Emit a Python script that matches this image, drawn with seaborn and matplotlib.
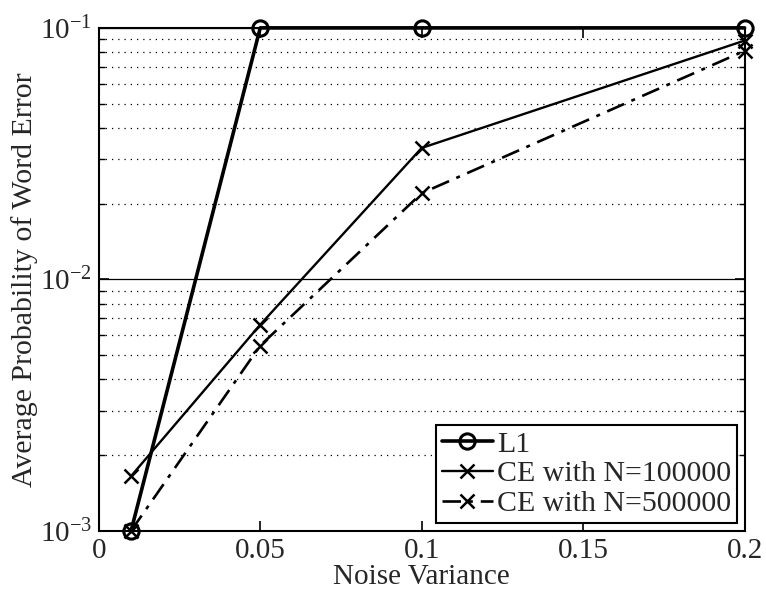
import numpy as np
import pandas as pd
import matplotlib
matplotlib.use("Agg")
import matplotlib.pyplot as plt
import matplotlib.ticker as mticker
import seaborn as sns

noise_var = [0.01, 0.05, 0.1, 0.2]
l1 = [1.0e-3, 1.0e-1, 1.0e-1, 1.0e-1]
ce_100k = [1.65e-3, 6.6e-3, 3.33e-2, 8.9e-2]
ce_500k = [1.0e-3, 5.45e-3, 2.2e-2, 8.1e-2]
labels = ["L1", "CE with N=100000", "CE with N=500000"]

sns.set_style("ticks")
plt.rcParams["font.family"] = ["Liberation Serif", "DejaVu Serif"]
plt.rcParams["mathtext.fontset"] = "stix"

fig, ax = plt.subplots(figsize=(7.66, 5.93), dpi=100)
fig.subplots_adjust(left=0.129, right=0.972, top=0.953, bottom=0.105)

df = pd.DataFrame({"x": noise_var, "L1": l1, "CE1": ce_100k, "CE5": ce_500k})

sns.lineplot(data=df, x="x", y="L1", ax=ax, color="black", lw=2.6,
             marker="o", markersize=11, markerfacecolor="none",
             markeredgecolor="black", markeredgewidth=2.2, legend=False,
             clip_on=False, zorder=5)
sns.lineplot(data=df, x="x", y="CE1", ax=ax, color="black", lw=1.7,
             marker="x", markersize=10, markeredgecolor="black",
             markeredgewidth=1.8, legend=False, clip_on=False, zorder=4)
sns.lineplot(data=df, x="x", y="CE5", ax=ax, color="black", lw=1.9,
             linestyle=(0, (7, 3, 1.5, 3)), marker="x", markersize=10,
             markeredgecolor="black", markeredgewidth=1.8, legend=False,
             clip_on=False, zorder=4)

ax.set_yscale("log")
ax.set_xlim(0, 0.2)
ax.set_ylim(1e-3, 1e-1)
ax.set_xticks([0, 0.05, 0.1, 0.15, 0.2])
ax.set_xticklabels(["0", "0.05", "0.1", "0.15", "0.2"])
ax.yaxis.set_major_locator(mticker.LogLocator(base=10, numticks=5))
ax.yaxis.set_minor_locator(mticker.LogLocator(base=10, subs=np.arange(2, 10), numticks=20))
ax.yaxis.set_minor_formatter(mticker.NullFormatter())

ax.grid(True, axis="y", which="minor", linestyle=(0, (1, 4)), color="black", lw=0.9)
ax.grid(True, axis="y", which="major", linestyle="-", color="black", lw=0.9)
ax.grid(False, axis="x")

for s in ax.spines.values():
    s.set_visible(True)
    s.set_linewidth(1.5)
    s.set_color("black")

ax.tick_params(which="both", direction="in", top=True, right=True, color="black")
ax.tick_params(which="major", length=7, width=1.2, labelsize=21, pad=5)
ax.tick_params(which="minor", length=4, width=1.0)

ax.set_xlabel("Noise Variance", fontsize=21, labelpad=0)
ax.set_ylabel("Average Probability of Word Error", fontsize=21.5, labelpad=1)

leg = ax.legend(ax.get_lines()[:3], labels, loc="lower right", fontsize=21.5,
                frameon=True, fancybox=False, edgecolor="black", framealpha=1,
                borderpad=0.2, labelspacing=0.1, handlelength=1.7,
                handletextpad=0.15, borderaxespad=0.25)
leg.get_frame().set_linewidth(1.5)
leg.set_zorder(10)

fig.savefig("out.png", dpi=100)
